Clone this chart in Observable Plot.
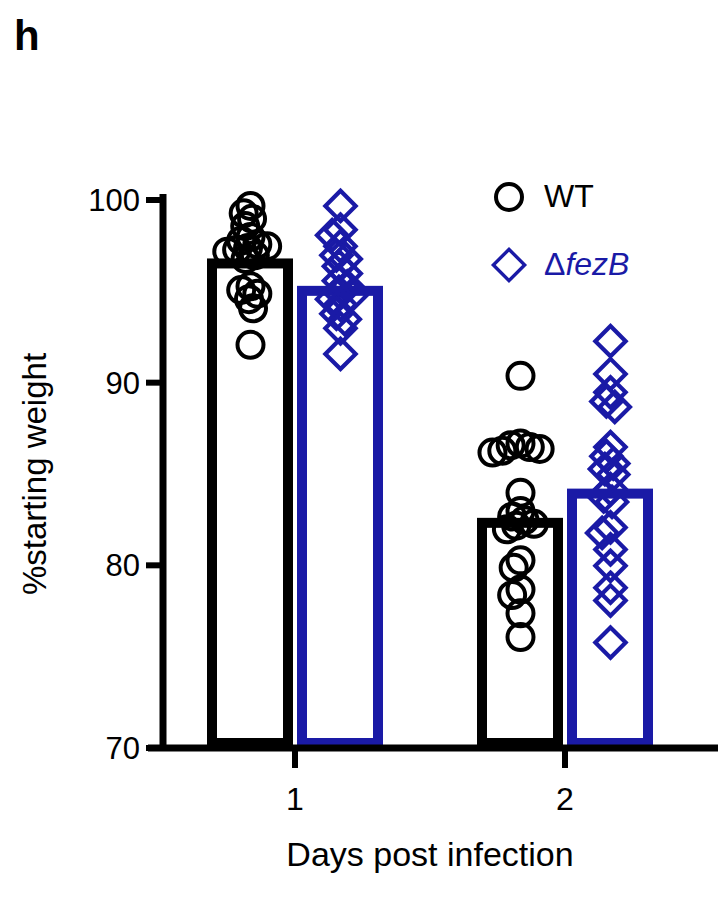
<!DOCTYPE html>
<html><head><meta charset="utf-8">
<script src="https://cdn.jsdelivr.net/npm/d3@7"></script>
<script src="https://cdn.jsdelivr.net/npm/@observablehq/plot@0.6"></script>
<style>
body{margin:0;background:#fff;font-family:Arial,"Liberation Sans",sans-serif}
#wrap{position:relative;width:718px;height:920px}
#panel{position:absolute;left:14px;top:12px;font-size:42px;font-weight:bold}
.leg{position:absolute;left:494px;font-size:32px;display:flex;align-items:center}
.leg span.m{display:inline-block;width:22px;height:22px;margin-right:20px;border:4px solid #000}
</style></head><body>
<div id="wrap"><div id="chart"></div><div id="panel">h</div>
<div class="leg" style="top:178px"><span class="m" style="border-radius:50%"></span>WT</div>
<div class="leg" style="top:246px;color:#1a1aa6"><span class="m" style="border-color:#1a1aa6;transform:rotate(45deg) scale(0.85)"></span>Δ<i>fezB</i></div>
</div>
<script>
const groups = ["1 WT", "1 fezB", "gap", "2 WT", "2 fezB"]
const days = ["1", "2"]
const yTicks = [70, 80, 90, 100]
const means = [96.8, 95.3, 82.6, 84.2]
const wtDay1 = [99.7,99.3,99.0,98.6,98.0,97.8,97.6,97.5,97.4,97.3,97.2,97.0,96.8,95.3,95.1,94.9,94.6,94.1,92.1]
const fezDay1 = [99.7,98.4,98.1,97.5,97.0,96.8,96.4,96.0,95.6,95.3,95.0,94.8,94.6,94.3,93.8,93.5,93.0,91.6]
const wtDay2 = [90.4,86.7,86.6,86.5,86.4,86.3,86.2,84.0,83.0,82.7,82.5,82.3,82.2,82.0,80.3,79.9,78.7,78.4,77.4,76.1]
const fezDay2 = [92.3,90.5,89.5,89.0,88.7,86.5,86.0,85.6,85.3,85.0,84.2,83.8,83.5,82.1,81.8,80.9,80.0,78.8,78.1,75.8]

const black = "#000", blue = "#1a1aa6"
const barKeys = ["1 WT", "1 fezB", "2 WT", "2 fezB"]
const bars = barKeys.map((k, i) => ({key: k, mean: means[i], c: k.includes("WT") ? black : blue}))
const pts = [
  ...wtDay1.map(v => ({key: "1 WT", v})),
  ...fezDay1.map(v => ({key: "1 fezB", v})),
  ...wtDay2.map(v => ({key: "2 WT", v})),
  ...fezDay2.map(v => ({key: "2 fezB", v}))
]

// dodge with a small radius, then enlarge the marks so they overlap like the original
const R = 4.5, BIG = 13, K = BIG / R
const chart = Plot.plot({
  width: 718, height: 920,
  marginLeft: 163, marginRight: 0, marginTop: 200, marginBottom: 172,
  style: {fontFamily: "Arial, 'Liberation Sans', sans-serif", fontSize: "30px", color: "#000"},
  fx: {domain: groups, paddingInner: 0.05, paddingOuter: 0.575, align: 0.4, axis: null, label: null},
  y: {domain: [70, 100], axis: null},
  marks: [
    Plot.rectY(bars, {fx: "key", y1: 70, y2: "mean", fill: "none", stroke: "c", strokeWidth: 10, inset: 5}),
    Plot.dot(pts.filter(d => d.key.includes("WT")), Plot.dodgeX("middle", {fx: "key", y: "v", r: R, padding: 0.3, stroke: black, strokeWidth: 4, className: "wt"})),
    Plot.dot(pts.filter(d => !d.key.includes("WT")), Plot.dodgeX("middle", {fx: "key", y: "v", r: R, padding: 0.3, symbol: "diamond2", stroke: blue, strokeWidth: 4 / K, className: "fez"}))
  ]
})

const svg = d3.select(chart.tagName === "svg" ? chart : chart.querySelector("svg"))
svg.selectAll(".wt circle").attr("r", BIG)
svg.selectAll(".fez path").each(function () {
  const t = this.getAttribute("transform") || ""
  this.setAttribute("transform", t + ` scale(${K * 1.05})`)
})
const y = chart.scale("y"), fx = chart.scale("fx")
const bw = fx.bandwidth, step = fx.step
const y70 = y.apply(70), y100 = y.apply(100)
svg.append("line").attr("x1", 163).attr("x2", 163).attr("y1", y100 - 6).attr("y2", y70).attr("stroke", "#000").attr("stroke-width", 7)
svg.append("line").attr("x1", 148).attr("x2", 718).attr("y1", y70).attr("y2", y70).attr("stroke", "#000").attr("stroke-width", 7)
yTicks.forEach(t => {
  const yy = y.apply(t)
  svg.append("line").attr("x1", 146).attr("x2", 163).attr("y1", yy).attr("y2", yy).attr("stroke", "#000").attr("stroke-width", 6)
  svg.append("text").attr("x", 140).attr("y", yy).attr("dy", "0.35em").attr("text-anchor", "end").attr("font-size", 31).text(t)
})
days.forEach(d => {
  const xc = fx.apply(d + " WT") + bw + (step - bw) / 2
  svg.append("line").attr("x1", xc).attr("x2", xc).attr("y1", y70).attr("y2", y70 + 20).attr("stroke", "#000").attr("stroke-width", 6)
  svg.append("text").attr("x", xc).attr("y", y70 + 62).attr("text-anchor", "middle").attr("font-size", 32).text(d)
})
svg.append("text").attr("x", 430).attr("y", 866).attr("text-anchor", "middle").attr("font-size", 34).text("Days post infection")
svg.append("text").attr("transform", `translate(46,${(y70 + y100) / 2}) rotate(-90)`).attr("text-anchor", "middle").attr("font-size", 33).text("%starting weight")
d3.select("#chart").append(() => chart)
</script></body></html>
